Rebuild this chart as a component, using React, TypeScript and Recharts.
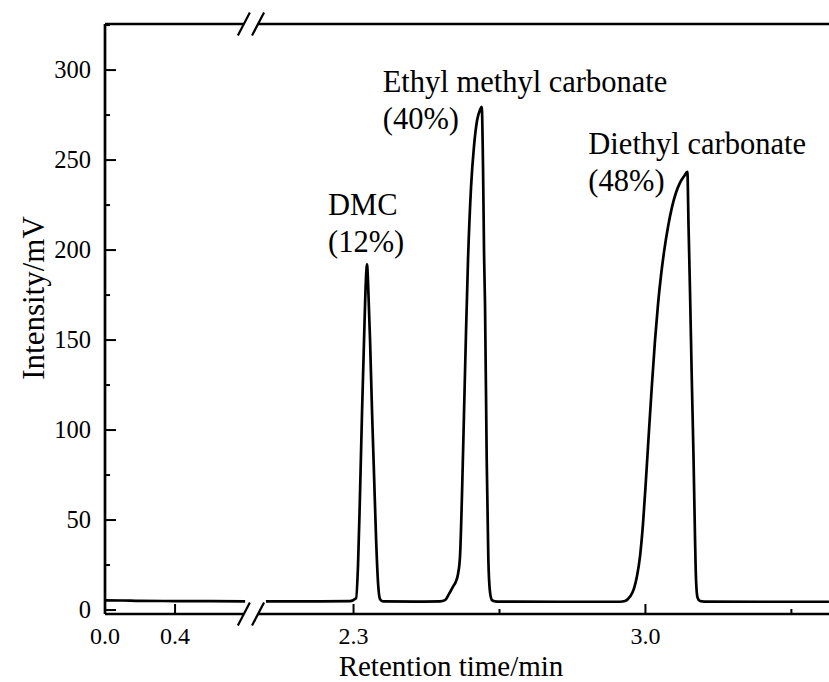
import { LineChart, Line, XAxis, YAxis, ReferenceLine, ReferenceDot } from 'recharts';

const FONT = "'Liberation Serif', 'Times New Roman', Times, serif";

// retention time (min) and detector signal (mV); the null point splits the trace at the axis break
const retentionTime = [
  0, 0.1, 0.2, 0.4, 0.6, 0.8,
  1.5,
  2.09, 2.2, 2.2916, 2.306, 2.3108, 2.3156, 2.3204, 2.3252, 2.33, 2.3324, 2.3348, 2.3396, 2.3444,
  2.3492, 2.354, 2.3588, 2.3636, 2.3707,
  2.45, 2.5074, 2.5194, 2.529, 2.5386, 2.5458, 2.5506, 2.5554, 2.5602, 2.565, 2.5698, 2.5746,
  2.5818, 2.589, 2.5962, 2.6034, 2.6074, 2.6106, 2.613, 2.6153, 2.6194, 2.6233, 2.6273, 2.6321,
  2.6393, 2.6513,
  2.8, 2.9391, 2.9511, 2.9631, 2.9727, 2.9799, 2.9871, 2.9942, 3.0014, 3.0086, 3.0158, 3.023,
  3.0302, 3.0374, 3.0446, 3.0542, 3.0638, 3.0734, 3.083, 3.0926, 3.1005, 3.1034, 3.107, 3.111,
  3.1153, 3.1189, 3.1213, 3.1249, 3.1309, 3.1405, 3.3, 3.44,
];
const intensity: (number | null)[] = [
  5.4, 5.3, 5.1, 5.0, 4.9, 4.8,
  null,
  4.8, 4.8, 5.0, 6.5, 25, 65, 110, 150, 185, 192, 182, 150, 110,
  75, 40, 15, 6, 4.8,
  4.7, 4.8, 5.5, 9, 13, 16, 20, 30, 65, 110, 155, 195,
  235, 258, 272, 278, 279.6, 245, 198, 170, 83, 28, 10, 5.5,
  4.8, 4.7,
  4.6, 4.6, 5, 7.5, 12, 19, 30, 48, 73, 100, 126, 150,
  170, 186, 199, 213, 224, 232, 237.5, 241, 243.5, 213, 176, 130,
  85, 40, 17, 7, 5, 4.7, 4.6, 4.6,
];

const xMajorTicks = [0, 0.4, 2.3, 3.0];
const xMinorTicks = [2.65, 3.35];
const yMajorTicks = [0, 50, 100, 150, 200, 250, 300];
const yMinorTicks = [25, 75, 125, 175, 225, 275, 325];

const peakNames = ['DMC', 'Ethyl methyl carbonate', 'Diethyl carbonate'];
const peakShares = ['(12%)', '(40%)', '(48%)'];
const peakTimes = [2.3324, 2.6074, 3.1005];
const peakHeights = [192, 279.6, 243.5];

// broken time axis: 0–0.8 min compressed, then 2.09 min onwards
const BREAK_START = 0.8;
const BREAK_END = 2.09;
const LEFT_SCALE = 0.42;
const BREAK_GAP = 0.05;
const BREAK_U = BREAK_START * LEFT_SCALE;
const U_MAX = 1.7362;
const Y_MIN = -2.2;
const Y_MAX = 325.6;

const toAxis = (t: number) => {
  if (t <= BREAK_START) return t * LEFT_SCALE;
  if (t >= BREAK_END) return BREAK_U + BREAK_GAP + (t - BREAK_END);
  return BREAK_U + BREAK_GAP / 2;
};
const fromAxis = (u: number) => (u <= BREAK_U + 1e-9 ? u / LEFT_SCALE : u - BREAK_U - BREAK_GAP + BREAK_END);

const data = retentionTime.map((t, i) => ({ u: toAxis(t), signal: intensity[i] }));
const xTicks = [...xMajorTicks, ...xMinorTicks].map(toAxis).sort((a, b) => a - b);
const yTicks = [...yMajorTicks, ...yMinorTicks].sort((a, b) => a - b);

const SLASHES = [BREAK_U - 0.003, BREAK_U + 0.031];
const SLASH_DX = 0.0144;
const SLASH_DY = 6.4;

const labelOffsets: Record<string, { dx: number; dy: number }> = {
  DMC: { dx: -39, dy: -49 },
  'Ethyl methyl carbonate': { dx: -99, dy: -15 },
  'Diethyl carbonate': { dx: -99, dy: -18 },
};

function XTick({ x, y, payload }: any) {
  const t = fromAxis(payload.value);
  const major = xMajorTicks.some((m) => Math.abs(m - t) < 1e-4);
  return (
    <g>
      <line x1={x} x2={x} y1={y} y2={y - (major ? 10 : 5)} stroke="#000" strokeWidth={2} />
      {major && (
        <text x={x} y={y + 30} textAnchor="middle" fontFamily={FONT} fontSize={24} fill="#000">
          {t.toFixed(1)}
        </text>
      )}
    </g>
  );
}

function YTick({ x, y, payload }: any) {
  const v = payload.value;
  const major = v % 50 === 0;
  return (
    <g>
      <line x1={x} x2={x + (major ? 11 : 5)} y1={y} y2={y} stroke="#000" strokeWidth={2} />
      {major && (
        <text x={x - 14} y={y + 8} textAnchor="end" fontFamily={FONT} fontSize={24.5} fill="#000">
          {v}
        </text>
      )}
    </g>
  );
}

function PeakLabel({ cx, cy, name, share }: any) {
  const off = labelOffsets[name];
  return (
    <g fontFamily={FONT} fontSize={30.5} fill="#000">
      <text x={cx + off.dx} y={cy + off.dy}>{name}</text>
      <text x={cx + off.dx} y={cy + off.dy + 37}>{share}</text>
    </g>
  );
}

export default function App() {
  const axisStroke = { stroke: '#000', strokeWidth: 2.7 };
  return (
    <div style={{ position: 'absolute', left: 0, top: 0, width: 829, height: 682, background: '#fff', overflow: 'hidden', fontFamily: FONT }}>
      <LineChart width={829} height={682} data={data} margin={{ top: 24, right: 0, bottom: 0, left: 0 }} style={{ fontFamily: FONT }}>
        <XAxis
          dataKey="u"
          type="number"
          domain={[0, U_MAX]}
          allowDataOverflow
          ticks={xTicks}
          interval={0}
          height={68}
          axisLine={false}
          tickLine={false}
          tickSize={0}
          tickMargin={0}
          tick={<XTick />}
          label={{ value: 'Retention time/min', position: 'insideBottom', offset: 6.5, dx: -16, fill: '#000', fontSize: 29, fontFamily: FONT }}
        />
        <YAxis
          type="number"
          domain={[Y_MIN, Y_MAX]}
          allowDataOverflow
          ticks={yTicks}
          interval={0}
          width={105}
          axisLine={axisStroke}
          tickLine={false}
          tickSize={0}
          tickMargin={0}
          tick={<YTick />}
          label={{ value: 'Intensity/mV', angle: -90, position: 'center', dx: -20, dy: -21, fill: '#000', fontSize: 31, fontFamily: FONT }}
        />
        {/* bottom and top frame, interrupted at the break */}
        {[Y_MIN, Y_MAX].map((yv) => (
          <ReferenceLine key={`l${yv}`} segment={[{ x: 0, y: yv }, { x: SLASHES[0], y: yv }]} ifOverflow="visible" {...axisStroke} />
        ))}
        {[Y_MIN, Y_MAX].map((yv) => (
          <ReferenceLine key={`r${yv}`} segment={[{ x: SLASHES[1], y: yv }, { x: U_MAX, y: yv }]} ifOverflow="visible" {...axisStroke} />
        ))}
        {[Y_MIN, Y_MAX].flatMap((yv) =>
          SLASHES.map((c) => (
            <ReferenceLine
              key={`s${yv}${c}`}
              segment={[{ x: c - SLASH_DX, y: yv - SLASH_DY }, { x: c + SLASH_DX, y: yv + SLASH_DY }]}
              ifOverflow="visible"
              stroke="#000"
              strokeWidth={2.2}
            />
          ))
        )}
        <Line
          type="monotone"
          dataKey="signal"
          stroke="#000"
          strokeWidth={2.7}
          dot={false}
          activeDot={false}
          connectNulls={false}
          isAnimationActive={false}
        />
        {peakNames.map((name, i) => (
          <ReferenceDot
            key={name}
            x={toAxis(peakTimes[i])}
            y={peakHeights[i]}
            r={1}
            ifOverflow="visible"
            shape={(p: any) => <PeakLabel cx={p.cx} cy={p.cy} name={name} share={peakShares[i]} />}
          />
        ))}
      </LineChart>
    </div>
  );
}
